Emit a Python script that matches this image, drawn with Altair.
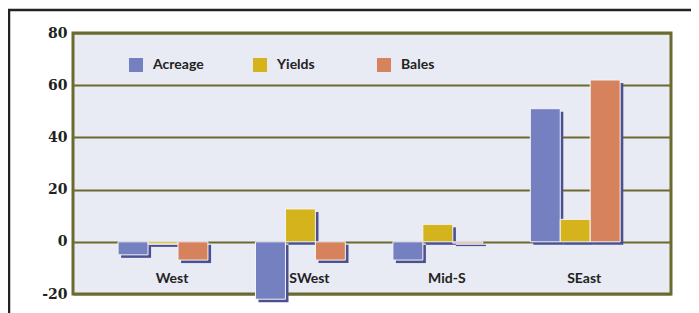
import altair as alt
import pandas as pd

regions = ["West", "SWest", "Mid-S", "SEast"]
series = ["Acreage", "Yields", "Bales"]
acreage = [-5, -22, -7, 51]
yields = [-0.8, 12.6, 6.7, 8.6]
bales = [-7, -7, -0.5, 62]
y_ticks = [-20, 0, 20, 40, 60, 80]
colors = ["#7480c0", "#d4b31c", "#d6825c"]

rows = []
for i, r in enumerate(regions):
    for s, vals in zip(series, [acreage, yields, bales]):
        rows.append({"region": r, "series": s, "value": vals[i]})
df = pd.DataFrame(rows)

olive = "#6b6a2f"

x_enc = alt.X("region:N", sort=regions,
              scale=alt.Scale(paddingInner=0.346, paddingOuter=0.349, align=0.47),
              axis=alt.Axis(title=None, domain=False, ticks=False, tickSize=0,
                            labelAngle=0, labelPadding=-12, labelBaseline="alphabetic",
                            labelOffset=9, labelFont="Lato", labelFontWeight="bold",
                            labelFontSize=14, labelColor="#222222"))
y_enc = alt.Y("value:Q",
              scale=alt.Scale(domain=[-20, 80], nice=False, zero=False),
              axis=alt.Axis(title=None, values=y_ticks, domain=False, ticks=False,
                            grid=True, gridColor=olive, gridWidth=2, gridOpacity=1,
                            labelExpr="datum.value + ''",
                            labelFont="DejaVu Serif", labelFontWeight="bold",
                            labelFontSize=14, labelColor="#222222", labelPadding=6))

base = alt.Chart(df)

shadow = base.mark_bar(color="#4b5190", clip=False, yOffset=3, y2Offset=3).encode(
    x=x_enc, y=y_enc,
    xOffset=alt.XOffset("series:N", sort=series,
                        scale=alt.Scale(domain=series, range=[3, 93])))

bars = base.mark_bar(stroke="#f4f4f8", strokeWidth=1, clip=False).encode(
    x=x_enc, y=y_enc,
    xOffset=alt.XOffset("series:N", sort=series, scale=alt.Scale(paddingInner=0, paddingOuter=0)),
    color=alt.Color("series:N", sort=series,
                    scale=alt.Scale(domain=series, range=colors),
                    legend=alt.Legend(title=None, orient="none", legendX=56, legendY=25,
                                      direction="horizontal", columns=3, gridAlign="all",
                                      columnPadding=49, symbolType="square", symbolSize=196,
                                      symbolOpacity=1, symbolStrokeWidth=0,
                                      labelOffset=10, labelFont="Lato", labelFontWeight="bold",
                                      labelFontSize=14, labelColor="#222222", padding=0)))

frame_df = pd.DataFrame({"k": [0]})
left_line = alt.Chart(frame_df).mark_rule(color="#222222", strokeWidth=2.5, clip=False).encode(
    x=alt.value(-64), y=alt.value(-23), y2=alt.value(290))
top_line = alt.Chart(frame_df).mark_rule(color="#222222", strokeWidth=2.5, clip=False).encode(
    x=alt.value(-65), x2=alt.value(640), y=alt.value(-23))

chart = alt.layer(shadow, bars, left_line, top_line).resolve_scale(
    xOffset="independent"
).properties(
    width=598, height=261,
    padding={"left": 65, "top": 25, "right": 20, "bottom": 19},
    autosize=alt.AutoSizeParams(type="none"),
    background="white",
).configure_view(fill="#e8eaf4", stroke=olive, strokeWidth=3)

chart.save("out.html", embed_options={"renderer": "svg", "actions": False})
